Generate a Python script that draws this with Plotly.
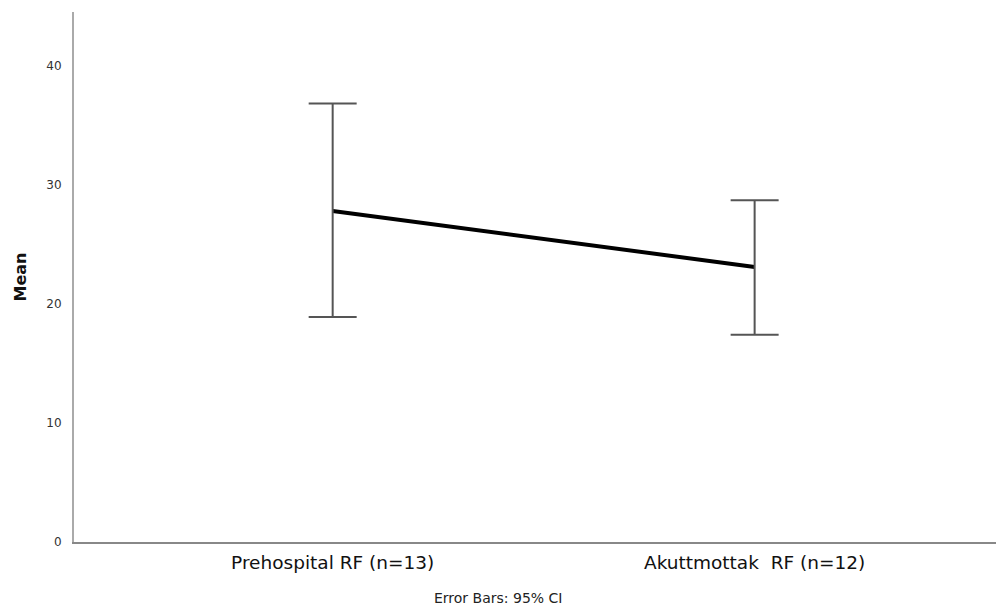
import plotly.graph_objects as go

categories = ["Prehospital RF (n=13)", "Akuttmottak  RF (n=12)"]
means = [27.8, 23.09]
ci_upper = [36.82, 28.70]
ci_lower = [18.89, 17.41]
y_ticks = [0, 10, 20, 30, 40]

xpos = list(range(len(categories)))
err_plus = [u - m for u, m in zip(ci_upper, means)]
err_minus = [m - l for m, l in zip(means, ci_lower)]

fig = go.Figure()
fig.add_trace(go.Scatter(
    x=xpos, y=means, mode="lines",
    line=dict(color="black", width=4),
    showlegend=False, hoverinfo="skip",
))
fig.add_trace(go.Scatter(
    x=xpos, y=means, mode="markers",
    marker=dict(size=1, color="rgba(0,0,0,0)"),
    error_y=dict(type="data", symmetric=False, array=err_plus, arrayminus=err_minus,
                 color="#555555", thickness=2, width=24),
    showlegend=False,
))

fig.update_layout(
    width=998, height=608,
    margin=dict(l=74, r=2, t=12, b=66),
    paper_bgcolor="white", plot_bgcolor="white",
    font=dict(family="DejaVu Sans", color="#111111"),
    xaxis=dict(
        range=[-0.613, 1.572], tickvals=xpos, ticktext=categories,
        showgrid=False, zeroline=False, showline=True, linecolor="#888888", linewidth=2,
        ticks="", ticklabelstandoff=3,
        tickfont=dict(size=18.5, color="#111111", family="DejaVu Sans"),
    ),
    yaxis=dict(
        range=[0, 44.5], tickvals=y_ticks, showgrid=False, zeroline=False,
        showline=True, linecolor="#aaaaaa", linewidth=2, ticks="", ticklabelstandoff=8,
        tickfont=dict(size=12, color="#333333", family="DejaVu Sans"),
        title=dict(text="<b>Mean</b>", font=dict(size=16, color="#111111", family="DejaVu Sans"), standoff=16),
    ),
    annotations=[dict(
        text="Error Bars: 95% CI", xref="paper", yref="paper",
        x=0.46, y=-0.105, showarrow=False, xanchor="center", yanchor="middle",
        font=dict(size=14, color="#222222", family="DejaVu Sans"),
    )],
)

fig.write_html("out.html")
